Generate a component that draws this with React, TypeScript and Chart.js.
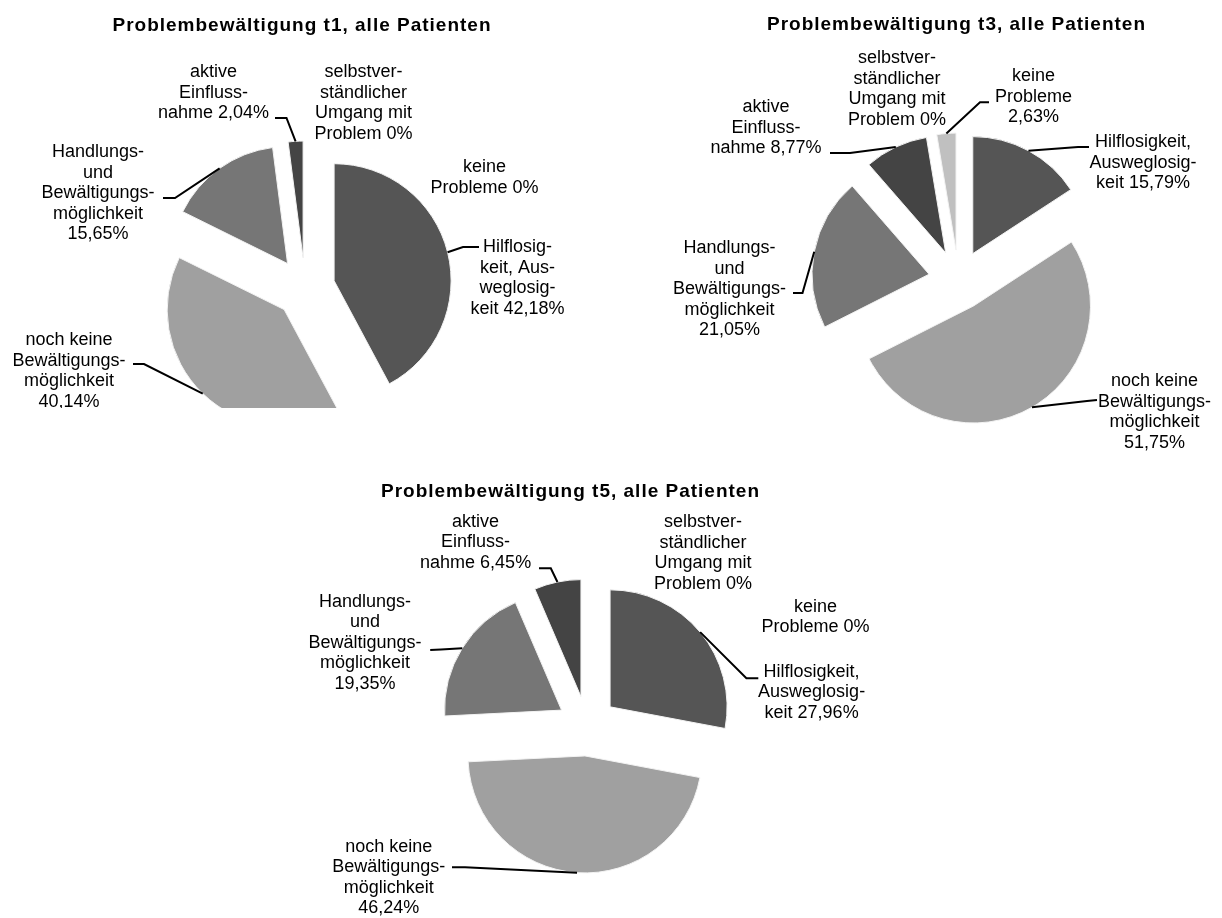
import React, { useEffect, useRef } from 'react';
import { Chart, registerables } from 'chart.js';

Chart.register(...registerables);

// Slice order (clockwise from 12 o'clock)
const categories = [
  'Hilflosigkeit, Ausweglosigkeit',
  'noch keine Bewältigungsmöglichkeit',
  'Handlungs- und Bewältigungsmöglichkeit',
  'aktive Einflussnahme',
  'selbstverständlicher Umgang mit Problem',
  'keine Probleme',
];

// Percentages per measurement point
const valuesT1 = [42.18, 40.14, 15.65, 2.04, 0, 0];
const valuesT3 = [15.79, 51.75, 21.05, 8.77, 0, 2.63];
const valuesT5 = [27.96, 46.24, 19.35, 6.45, 0, 0];

const titles = [
  'Problembewältigung t1, alle Patienten',
  'Problembewältigung t3, alle Patienten',
  'Problembewältigung t5, alle Patienten',
];

// Wrapped label text; "{v}" is replaced by the slice value
const labelLinesT1 = [
  ['Hilflosig-', 'keit, Aus-', 'weglosig-', 'keit {v}'],
  ['noch keine', 'Bewältigungs-', 'möglichkeit', '{v}'],
  ['Handlungs-', 'und', 'Bewältigungs-', 'möglichkeit', '{v}'],
  ['aktive', 'Einfluss-', 'nahme {v}'],
  ['selbstver-', 'ständlicher', 'Umgang mit', 'Problem {v}'],
  ['keine', 'Probleme {v}'],
];
const labelLinesT3 = [
  ['Hilflosigkeit,', 'Ausweglosig-', 'keit {v}'],
  ['noch keine', 'Bewältigungs-', 'möglichkeit', '{v}'],
  ['Handlungs-', 'und', 'Bewältigungs-', 'möglichkeit', '{v}'],
  ['aktive', 'Einfluss-', 'nahme {v}'],
  ['selbstver-', 'ständlicher', 'Umgang mit', 'Problem {v}'],
  ['keine', 'Probleme', '{v}'],
];
const labelLinesT5 = [
  ['Hilflosigkeit,', 'Ausweglosig-', 'keit {v}'],
  ['noch keine', 'Bewältigungs-', 'möglichkeit', '{v}'],
  ['Handlungs-', 'und', 'Bewältigungs-', 'möglichkeit', '{v}'],
  ['aktive', 'Einfluss-', 'nahme {v}'],
  ['selbstver-', 'ständlicher', 'Umgang mit', 'Problem {v}'],
  ['keine', 'Probleme {v}'],
];

// ---- styling / layout ----
const sliceColors = ['#555555', '#a0a0a0', '#767676', '#444444', '#8a8a8a', '#c0c0c0'];
const RADIUS = 117;
const EXPLODE = 30;
const LINE_H = 20.5;
const LABEL_FONT = '18px "Liberation Sans", Arial, sans-serif';
const TITLE_FONT = 'bold 19px "Liberation Sans", Arial, sans-serif';

type Place = { dx: number; dy: number; leader?: [number, number, number, number] };

// label placement relative to the pie centre: text centre x, first baseline y,
// leader end point and elbow point
const placesT1: Place[] = [
  { dx: 212.5, dy: -36, leader: [174, -41, 158, -41] },
  { dx: -236, dy: 57, leader: [-172, 76, -161, 76] },
  { dx: -207, dy: -131, leader: [-142, -90, -130, -90] },
  { dx: -91.5, dy: -211, leader: [-30, -170, -18.5, -170] },
  { dx: 58.5, dy: -211 },
  { dx: 179.6, dy: -116 },
];
const placesT3: Place[] = [
  { dx: 184.5, dy: -133, leader: [130.5, -133, 119.5, -133] },
  { dx: 196, dy: 106, leader: [138.5, 120, 128.5, 121] },
  { dx: -229, dy: -27, leader: [-165.5, 13, -156, 13] },
  { dx: -192.5, dy: -168, leader: [-128.5, -127, -108.5, -127] },
  { dx: -61.5, dy: -217 },
  { dx: 75, dy: -199, leader: [30.5, -177.7, 21.5, -177.7] },
];
const placesT5: Place[] = [
  { dx: 224.6, dy: -49.3, leader: [171.3, -47.7, 159.4, -47.7] },
  { dx: -198.3, dy: 125.7, leader: [-135, 141.3, -122, 141.3] },
  { dx: -222, dy: -119.3, leader: [-156.8, -76, -146, -76.5] },
  { dx: -111.4, dy: -199.3, leader: [-48, -157.7, -36.2, -157.7] },
  { dx: 116, dy: -199 },
  { dx: 228.6, dy: -114.3 },
];

type Spec = {
  title: string;
  values: number[];
  lines: string[][];
  places: Place[];
  titlePos: [number, number];
  left: number;
  top: number;
  w: number;
  h: number;
  cx: number;
  cy: number;
};

const specs: Spec[] = [
  { title: titles[0], values: valuesT1, lines: labelLinesT1, places: placesT1, titlePos: [-3, -257],
    left: 0, top: 0, w: 611, h: 408, cx: 305, cy: 288 },
  { title: titles[1], values: valuesT3, lines: labelLinesT3, places: placesT3, titlePos: [-2, -250],
    left: 611, top: 0, w: 611, h: 470, cx: 347.5, cy: 280 },
  { title: titles[2], values: valuesT5, lines: labelLinesT5, places: placesT5, titlePos: [-16.5, -229.3],
    left: 0, top: 470, w: 1222, h: 448, cx: 587, cy: 256 },
];

const fmt = (v: number) => (v === 0 ? '0%' : v.toFixed(2).replace('.', ',') + '%');

function padFor(size: number, c: number): [number, number] {
  return 2 * c <= size ? [0, size - 2 * c] : [2 * c - size, 0];
}

function makePlugin(spec: Spec) {
  return {
    id: 'explodedPieLabels',
    // draw each slice pushed outwards along its bisector
    beforeDatasetDraw(chart: any, args: any) {
      const ctx: CanvasRenderingContext2D = chart.ctx;
      args.meta.data.forEach((el: any) => {
        const mid = (el.startAngle + el.endAngle) / 2;
        ctx.save();
        ctx.translate(Math.cos(mid) * EXPLODE, Math.sin(mid) * EXPLODE);
        el.draw(ctx, chart.chartArea);
        ctx.restore();
      });
      return false;
    },
    afterDraw(chart: any) {
      const ctx: CanvasRenderingContext2D = chart.ctx;
      const meta = chart.getDatasetMeta(0);
      const first: any = meta.data[0];
      const ox = first.x;
      const oy = first.y;

      ctx.save();
      ctx.fillStyle = '#000';
      ctx.font = TITLE_FONT;
      ctx.textAlign = 'center';
      ctx.textBaseline = 'alphabetic';
      (ctx as any).letterSpacing = '1px';
      ctx.fillText(spec.title, ox + spec.titlePos[0], oy + spec.titlePos[1]);
      ctx.restore();

      ctx.save();
      ctx.font = LABEL_FONT;
      ctx.fillStyle = '#000';
      ctx.textAlign = 'center';
      ctx.textBaseline = 'alphabetic';
      ctx.strokeStyle = '#000';
      ctx.lineWidth = 2;
      ctx.lineJoin = 'miter';
      spec.values.forEach((v, i) => {
        const place = spec.places[i];
        const lines = spec.lines[i].map((s) => s.replace('{v}', fmt(v)));
        lines.forEach((t, k) => {
          ctx.fillText(t, ox + place.dx, oy + place.dy + k * LINE_H);
        });
        if (place.leader && v > 0) {
          const el: any = meta.data[i];
          const mid = (el.startAngle + el.endAngle) / 2;
          const rr = el.outerRadius + EXPLODE;
          const ax = el.x + Math.cos(mid) * rr;
          const ay = el.y + Math.sin(mid) * rr;
          const [ex, ey, bx, by] = place.leader;
          ctx.beginPath();
          ctx.moveTo(ox + ex, oy + ey);
          ctx.lineTo(ox + bx, oy + by);
          ctx.lineTo(ax, ay);
          ctx.stroke();
        }
      });
      ctx.restore();
    },
  };
}

function PieCanvas({ spec }: { spec: Spec }) {
  const ref = useRef<HTMLCanvasElement>(null);
  useEffect(() => {
    const [pl, pr] = padFor(spec.w, spec.cx);
    const [pt, pb] = padFor(spec.h, spec.cy);
    const chart = new Chart(ref.current as HTMLCanvasElement, {
      type: 'pie',
      data: {
        labels: categories,
        datasets: [
          {
            data: spec.values,
            backgroundColor: sliceColors,
            borderColor: '#f2f2f2',
            borderWidth: 1,
            radius: RADIUS,
            offset: 0,
            clip: false,
          } as any,
        ],
      },
      options: {
        responsive: false,
        animation: false,
        devicePixelRatio: 1,
        events: [],
        layout: { padding: { left: pl, right: pr, top: pt, bottom: pb } },
        plugins: {
          legend: { display: false },
          title: { display: false },
          tooltip: { enabled: false },
        },
      } as any,
      plugins: [makePlugin(spec) as any],
    });
    return () => chart.destroy();
  }, [spec]);
  return (
    <canvas
      ref={ref}
      width={spec.w}
      height={spec.h}
      style={{ position: 'absolute', left: spec.left, top: spec.top, width: spec.w, height: spec.h }}
    />
  );
}

export default function App() {
  return (
    <div
      style={{
        position: 'absolute',
        left: 0,
        top: 0,
        width: 1222,
        height: 918,
        background: '#ffffff',
        overflow: 'hidden',
      }}
    >
      {specs.map((s, i) => (
        <PieCanvas key={i} spec={s} />
      ))}
    </div>
  );
}
